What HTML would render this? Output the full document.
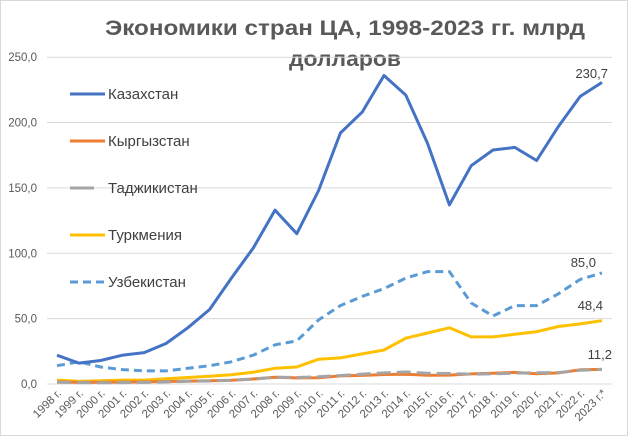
<!DOCTYPE html>
<html><head><meta charset="utf-8"><style>
html,body{margin:0;padding:0;background:#fff;}
svg{display:block;font-family:"Liberation Sans","DejaVu Sans",sans-serif;}
</style></head><body>
<svg id="c" width="629" height="437" viewBox="0 0 629 437">
<rect x="0.5" y="0.5" width="627" height="435" fill="#fff" stroke="#d9d9d9"/>
<text x="345" y="35" font-size="21" font-weight="bold" fill="#595959" text-anchor="middle" textLength="480" lengthAdjust="spacingAndGlyphs">Экономики стран ЦА, 1998-2023 гг. млрд</text>
<text x="345" y="66" font-size="21" font-weight="bold" fill="#595959" text-anchor="middle" textLength="112" lengthAdjust="spacingAndGlyphs">долларов</text>
<g id="grid"></g>
<g id="series"></g>
<g font-size="15" fill="#404040">
<line x1="70" y1="94" x2="105" y2="94" stroke="#4472C4" stroke-width="3"/><text x="108" y="99">Казахстан</text>
<line x1="70" y1="141" x2="105" y2="141" stroke="#ED7D31" stroke-width="3"/><text x="108" y="146">Кыргызстан</text>
<line x1="70" y1="188" x2="94" y2="188" stroke="#A5A5A5" stroke-width="3"/><text x="108" y="193">Таджикистан</text>
<line x1="70" y1="235" x2="105" y2="235" stroke="#FFC000" stroke-width="3"/><text x="108" y="240">Туркмения</text>
<line x1="70" y1="282" x2="105" y2="282" stroke="#5B9BD5" stroke-width="3" stroke-dasharray="8,5"/><text x="108" y="287">Узбекистан</text>
</g>
<g font-size="13" fill="#404040" text-anchor="end">
<text x="608" y="78">230,7</text>
<text x="596" y="267">85,0</text>
<text x="603" y="310">48,4</text>
<text x="612" y="359">11,2</text>
</g>
</svg>
<script>
var ns="http://www.w3.org/2000/svg";
function el(t,a,p,txt){var e=document.createElementNS(ns,t);for(var k in a)e.setAttribute(k,a[k]);if(txt)e.textContent=txt;p.appendChild(e);return e;}
var g=document.getElementById("grid"),s=document.getElementById("series");
function Y(v){return 384-v*1.3072;}
function X(i){return 57+i*21.8;}
for(var v=0;v<=250;v+=50){var y=Y(v);el("line",{x1:47,x2:612,y1:y,y2:y,stroke:"#d9d9d9","stroke-width":1},g);
el("text",{x:37,y:y+4,"font-size":11.5,fill:"#595959","text-anchor":"end"},g,v+",0");}
for(var i=0;i<26;i++){var yr=1998+i;var lab=yr+" г."+(i==25?"*":"");
el("text",{x:0,y:0,"font-size":11.5,fill:"#595959","text-anchor":"end",transform:"translate("+(X(i)+5)+",394) rotate(-45)"},g,lab);}
var data=[
["#FFC000",[3,2,2.5,3,3,4,5,6,7,9,12,13,19,20,23,26,35,39,43,36,36,38,40,44,46,48.4],""],
["#ED7D31",[1.7,1.2,1.4,1.5,1.6,1.9,2.2,2.5,2.8,3.8,5.1,4.7,4.8,6.2,6.6,7.3,7.5,6.7,6.8,7.7,8.3,8.9,7.8,8.5,10.9,11.2],""],
["#A5A5A5",[1.3,1.1,0.9,1.1,1.2,1.6,2.1,2.3,2.8,3.7,5.2,5,5.6,6.5,7.6,8.5,9.2,8.3,8,7.5,7.8,8.3,8.6,8.7,10.5,11.2],"14,6"],
["#5B9BD5",[14,17,13,11,10,10,12,14,17,22,30,33,49,60,67,73,81,86,86,62,52,60,60,69,80,85],"8,5"],
["#4472C4",[22,16,18,22,24,31,43,57,81,104,133,115,148,192,208,236,221,184,137,167,179,181,171,197,220,230.7],""]];
data.forEach(function(d){var p=d[1].map(function(v,i){return X(i).toFixed(1)+","+Y(v).toFixed(1);}).join(" ");
var a={points:p,fill:"none",stroke:d[0],"stroke-width":3,"stroke-linejoin":"round"};if(d[2])a["stroke-dasharray"]=d[2];el("polyline",a,s);});
</script>
</body></html>
